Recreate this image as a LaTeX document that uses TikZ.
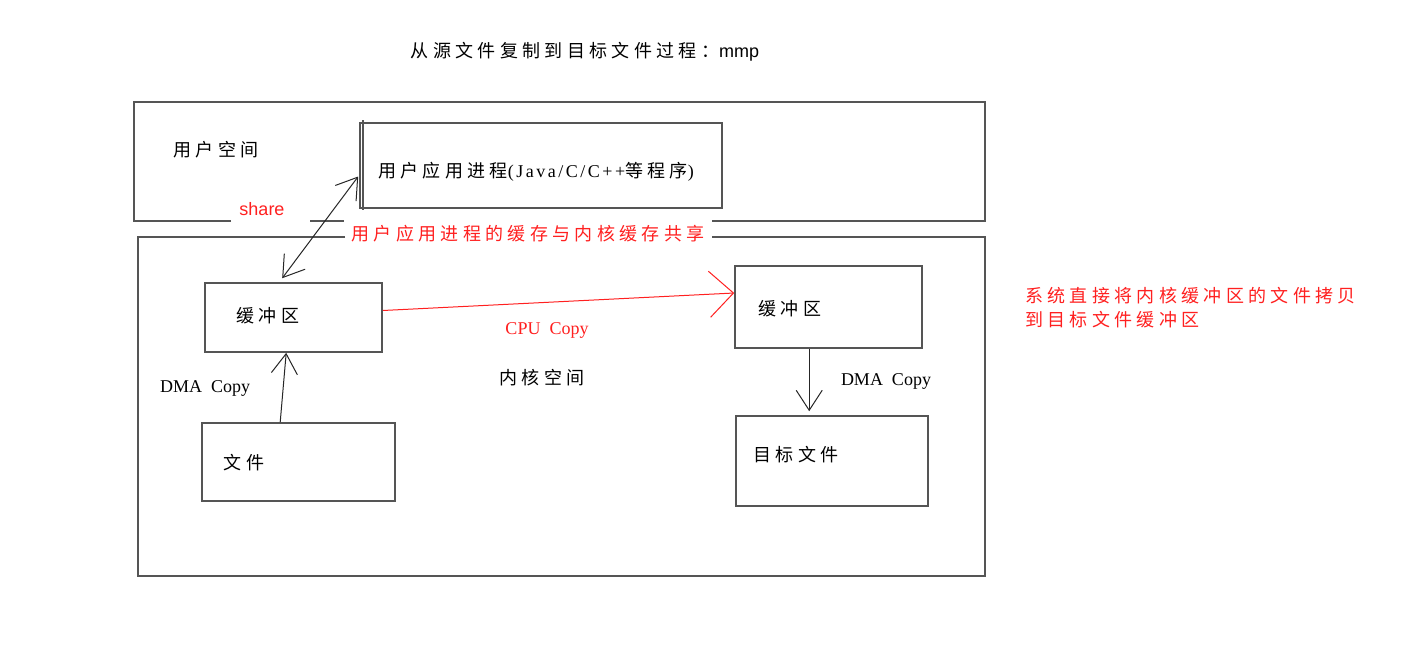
\documentclass[tikz,border=0pt]{standalone}
\usepackage{fontspec}
\setmainfont{Liberation Serif}
\newfontfamily\cjk[LetterSpace=24]{Noto Sans CJK SC}
\newfontfamily\sansf{Liberation Sans}
\newfontfamily\latsp[LetterSpace=14]{Liberation Serif}
\usetikzlibrary{arrows.meta,calc}
\definecolor{frame}{HTML}{555555}
\definecolor{myred}{HTML}{FF2020}
\tikzset{
  box/.style={draw=frame, line width=1.6pt, minimum width=#1, inner sep=0pt},
  lbl/.style={font=\fontsize{18}{21}\selectfont, inner sep=0pt},
  redlbl/.style={lbl, text=myred},
  conn/.style={draw=black!85, line width=1pt},
  barb/.style={-{Straight Barb[length=20pt,width=26pt,line width=1pt]}},
  bigbarb/.style={-{Straight Barb[length=24pt,width=46pt,line width=1pt]}},
}
\begin{document}
\begin{tikzpicture}[x=1pt,y=-1pt]
\useasboundingbox[fill=white] (0,0) rectangle (1425,646);

% title
\node[lbl] (title) at (585,52) {\cjk 从源文件复制到目标文件过程：\sansf mmp};

% user space frame (with gaps)
\draw[frame, line width=1.6pt] (231,221) -- (134,221) -- (134,102) -- (985,102) -- (985,221) -- (712,221);
\draw[frame, line width=1.6pt] (310,221) -- (344,221);
% kernel space frame
\draw[frame, line width=1.6pt] (345,237) -- (138,237) -- (138,576) -- (985,576) -- (985,237) -- (712,237);

\node[lbl] (userlbl) at (216,150) {\cjk 用户空间};
\node[lbl] (kernlbl) at (542,378) {\cjk 内核空间};

% process box
\node[box=362pt, minimum height=85pt] (proc) at (541,165.5) {};
\draw[frame, line width=1.6pt] (363,120) -- (363,210);
\node[lbl, anchor=west] (proctxt) at (378,172) {\cjk 用户应用进程\latsp(Java/C/C++\cjk 等程序\latsp)};

\node[redlbl] (share) at (262,209) {\sansf share};
\node[redlbl] (sharetxt) at (528,234) {\cjk 用户应用进程的缓存与内核缓存共享};

% kernel boxes
\node[box=177pt, minimum height=69pt] (buf1) at (293.5,317.5) {};
\node[lbl] (buf1txt) at (268,316) {\cjk 缓冲区};
\node[box=193pt, minimum height=78pt] (file) at (298.5,462) {};
\node[lbl] (filetxt) at (244,463) {\cjk 文件};
\node[lbl, anchor=west] (dma1) at (160,388) {DMA\ \ Copy};

\node[box=187pt, minimum height=82pt] (buf2) at (828.5,307) {};
\node[lbl] (buf2txt) at (790,309) {\cjk 缓冲区};
\node[box=192pt, minimum height=90pt] (target) at (832,461) {};
\node[lbl] (targettxt) at (796,455) {\cjk 目标文件};
\node[lbl] (dma2) at (886,381) {DMA\ \ Copy};

\node[redlbl] (cpu) at (547,330) {CPU\ \ Copy};

\node[redlbl, anchor=west] (note1) at (1025,296) {\cjk 系统直接将内核缓冲区的文件拷贝};
\node[redlbl, anchor=west] (note2) at (1025,320) {\cjk 到目标文件缓冲区};

% connectors
\draw[conn, {Straight Barb[length=20pt,width=26pt,line width=1pt]}-{Straight Barb[length=20pt,width=26pt,line width=1pt]}]
  ($(buf1.north west)+(78,-4)$) -- ($(proc.west)+(-1,11)$);
\draw[conn, barb] ($(file.north west)+(79,0)$) -- ($(buf1.south west)+(82,0)$);
\draw[conn, draw=myred, bigbarb, myred] ($(buf1.east)+(0,-7)$) -- ($(buf2.west)+(0,-14)$);
\draw[conn, barb] ($(buf2.south west)+(75,0)$) -- ($(target.north west)+(74,-4)$);
\end{tikzpicture}
\end{document}
